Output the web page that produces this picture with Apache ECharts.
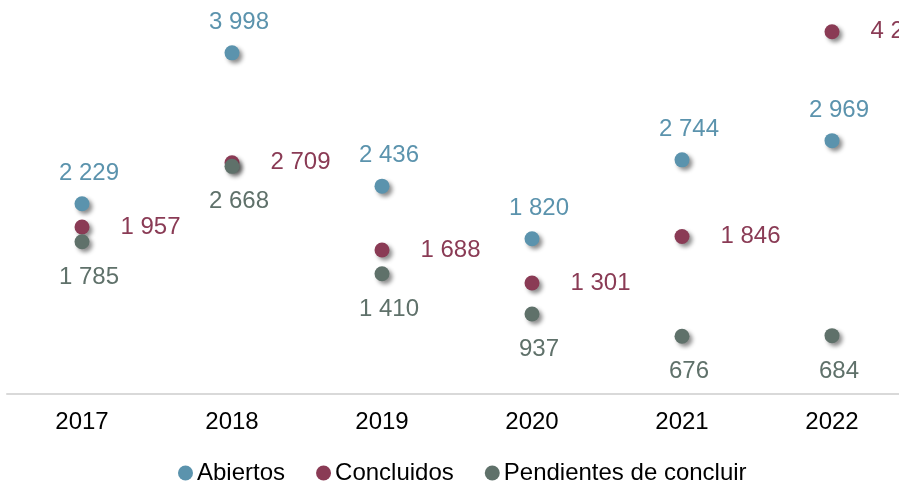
<!DOCTYPE html>
<html>
<head>
<meta charset="utf-8">
<script src="https://cdn.jsdelivr.net/npm/echarts@6/dist/echarts.min.js"></script>
<style>
  html, body { margin: 0; padding: 0; background: #fff; }
  #main { width: 899px; height: 481px; }
</style>
</head>
<body>
<div id="main"></div>
<script>
// datos
const years = ['2017', '2018', '2019', '2020', '2021', '2022']
const abiertos = [2229, 3998, 2436, 1820, 2744, 2969]
const concluidos = [1957, 2709, 1688, 1301, 1846, 4245]
const pendientes = [1785, 2668, 1410, 937, 676, 684]

const colors = ['#5b93ad', '#8a3b55', '#5f716a']
const font = 'Liberation Sans, Arial, sans-serif'

// separador de miles con espacio
const fmt = p => String(p.value).replace(/\B(?=(\d{3})+(?!\d))/g, ' ')

function makeSeries(name, data, color, position, distance, offset) {
  return {
    name: name,
    type: 'scatter',
    data: data,
    symbolSize: 15,
    itemStyle: {
      color: color,
      opacity: 1,
      shadowColor: 'rgba(0,0,0,0.45)',
      shadowBlur: 4,
      shadowOffsetX: 3,
      shadowOffsetY: 3
    },
    label: {
      show: true,
      position: position,
      distance: distance,
      offset: offset,
      color: color,
      fontSize: 24,
      fontFamily: font,
      formatter: fmt
    }
  }
}

const myChart = echarts.init(document.querySelector('#main'))
const option = {
  animation: false,
  grid: {
    left: 7,
    width: 900,
    top: 10,
    bottom: 87,
    outerBoundsMode: 'none',
    containLabel: false
  },
  xAxis: {
    type: 'category',
    data: years,
    axisLine: {
      lineStyle: { color: '#d9d9d9', width: 2 }
    },
    axisTick: { show: false },
    axisLabel: {
      color: '#000',
      fontSize: 24,
      margin: 16,
      fontFamily: font
    }
  },
  yAxis: {
    type: 'value',
    min: 0,
    max: 4500,
    show: false,
    splitLine: { show: false }
  },
  legend: {
    top: 456,
    left: 173,
    icon: 'circle',
    itemWidth: 15,
    itemHeight: 15,
    itemGap: 31,
    textStyle: {
      fontSize: 24,
      color: '#000',
      fontFamily: font,
      padding: [0, 0, 0, -1]
    }
  },
  series: [
    makeSeries('Abiertos', abiertos, colors[0], 'top', 11, [7, 0]),
    makeSeries('Concluidos', concluidos, colors[1], 'right', 31, [0, 0]),
    makeSeries('Pendientes de concluir', pendientes, colors[2], 'bottom', 16, [7, 0])
  ]
}
myChart.setOption(option)
</script>
</body>
</html>
